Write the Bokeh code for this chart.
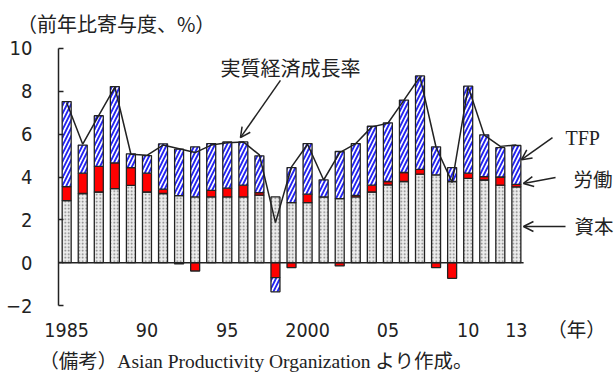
import numpy as np
from bokeh.plotting import figure
from bokeh.models import (Range1d, FixedTicker, Label, Arrow, OpenHead,
                          ColumnDataSource)
from bokeh.embed import file_html
from bokeh.resources import INLINE

# ---- data (contribution to real GDP growth, %) ----
years = list(range(1985, 2014))
capital = [2.90, 3.23, 3.30, 3.46, 3.61, 3.30, 3.23, 3.13, 3.07, 3.07,
           3.07, 3.07, 3.15, 3.07, 2.80, 2.80, 3.07, 2.99, 3.07, 3.30,
           3.63, 3.79, 4.13, 4.10, 3.79, 3.94, 3.86, 3.62, 3.54]
labor = [0.65, 0.95, 1.20, 1.20, 0.83, 0.88, 0.20, -0.06, -0.39, 0.31,
         0.41, 0.55, 0.12, -0.70, -0.23, 0.40, 0.00, -0.15, 0.07, 0.32,
         0.16, 0.42, 0.23, -0.23, -0.73, 0.24, 0.16, 0.38, 0.12]
tfp = [3.97, 1.31, 2.36, 3.56, 0.64, 0.82, 2.12, 2.17, 2.34, 2.18,
       2.16, 2.02, 1.72, -0.66, 1.64, 2.36, 0.80, 2.20, 2.42, 2.75,
       2.74, 3.38, 4.36, 1.31, 0.65, 4.06, 1.95, 1.37, 1.81]
gdp = [7.48, 5.53, 6.88, 8.20, 5.06, 5.01, 5.49, 5.32, 5.14, 5.49,
       5.60, 5.64, 5.03, 1.87, 4.47, 5.53, 3.86, 5.14, 5.56, 6.34,
       6.51, 7.59, 8.68, 5.39, 3.75, 8.21, 5.95, 5.43, 5.49]

y_ticks = [-2, 0, 2, 4, 6, 8, 10]
x_ticks = [1985, 1990, 1995, 2000, 2005, 2010, 2013, 2016.74]
x_tick_labels = ["1985", "90", "95", "2000", "05", "10", "13", "（年）"]

title_text = "（前年比寄与度、%）"
note_text = "（備考）Asian Productivity Organization より作成。"

JP = "Noto Sans CJK JP"
NUM = "DejaVu Sans Condensed, Roboto, Noto Sans CJK JP"
SERIF = "Liberation Serif, Noto Sans CJK JP"

Y_MIN, Y_MAX = y_ticks[0], y_ticks[-1]
AXIS_X = 1984.49

p = figure(width=614, height=372, output_backend="svg", toolbar_location=None,
           x_range=Range1d(1980.88, 2019.11), y_range=Range1d(-5.128, 12.241),
           min_border_left=0, min_border_right=0, min_border_top=0,
           min_border_bottom=0)
p.outline_line_color = None
p.xgrid.visible = False
p.ygrid.visible = False

# ---- stacked bars with separate positive/negative stacking ----
n = len(years)
pos_base = np.zeros(n)
neg_base = np.zeros(n)
styles = [
    dict(fill_color="#ececec", hatch_pattern="dot", hatch_color="#7a7a7a",
         hatch_scale=3.5, hatch_weight=1.2),
    dict(fill_color="#ff0000"),
    dict(fill_color="white", hatch_pattern="/", hatch_color="#2424f2",
         hatch_scale=8, hatch_weight=1.9),
]
for series, st in zip([capital, labor, tfp], styles):
    v = np.array(series, dtype=float)
    bottom = np.where(v >= 0, pos_base, neg_base + v)
    top = np.where(v >= 0, pos_base + v, neg_base)
    pos_base = np.where(v >= 0, pos_base + v, pos_base)
    neg_base = np.where(v < 0, neg_base + v, neg_base)
    src = ColumnDataSource(dict(x=years, bottom=bottom, top=top))
    p.vbar(x="x", bottom="bottom", top="top", width=0.56, source=src,
           line_color="#222222", line_width=1.3, **st)

# zero baseline
p.segment(x0=[AXIS_X], y0=[0], x1=[years[-1] + 0.45], y1=[0],
          line_color="#222222", line_width=1.5)

# GDP growth line
p.line(years, gdp, line_color="#222222", line_width=1.5)

# ---- axes ----
ya = p.yaxis[0]
ya.fixed_location = AXIS_X
ya.bounds = (Y_MIN, Y_MAX)
ya.ticker = FixedTicker(ticks=y_ticks)
ya.major_label_overrides = {-2: "−2"}
ya.axis_line_color = "#222222"
ya.axis_line_width = 1.5
ya.major_tick_in = 5
ya.major_tick_out = 0
ya.major_tick_line_width = 1.5
ya.major_tick_line_color = "#222222"
ya.minor_tick_line_color = None
ya.major_label_standoff = 26
ya.major_label_text_font = NUM
ya.major_label_text_font_size = "20px"
ya.major_label_text_color = "#222222"

xa = p.xaxis[0]
xa.fixed_location = Y_MIN
xa.ticker = FixedTicker(ticks=x_ticks)
xa.major_label_overrides = {t: s for t, s in zip(x_ticks, x_tick_labels)}
xa.axis_line_color = None
xa.major_tick_line_color = None
xa.minor_tick_line_color = None
xa.major_label_standoff = 7
xa.major_label_text_font = NUM
xa.major_label_text_font_size = "19.5px"
xa.major_label_text_color = "#222222"

# ---- annotations ----
def lab(x, y, text, font, size, align="left"):
    p.add_layout(Label(x=x, y=y, text=text, text_font=font,
                       text_font_size=size, text_align=align,
                       text_baseline="middle", text_color="#222222"))

lab(1981.9, 11.17, title_text, JP, "20px")
lab(1983.3, -4.60, note_text, SERIF, "19.5px")
lab(1998.94, 9.11, "実質経済成長率", JP, "20px", "center")
lab(2016.06, 5.84, "TFP", "Liberation Serif", "20px")
lab(2016.56, 3.93, "労働", JP, "19.5px")
lab(2016.62, 1.74, "資本", JP, "19.5px")

def arr(x0, y0, x1, y1):
    p.add_layout(Arrow(x_start=x0, y_start=y0, x_end=x1, y_end=y1,
                       line_color="#222222", line_width=1.5,
                       end=OpenHead(size=10, line_width=1.5,
                                    line_color="#222222")))

arr(1998.31, 8.51, 1995.82, 5.84)
arr(2015.25, 5.84, 2013.32, 4.81)
arr(2015.44, 3.98, 2013.44, 3.70)
arr(2016.06, 1.69, 2013.44, 1.69)

open("out.html", "w").write(file_html(p, INLINE))
